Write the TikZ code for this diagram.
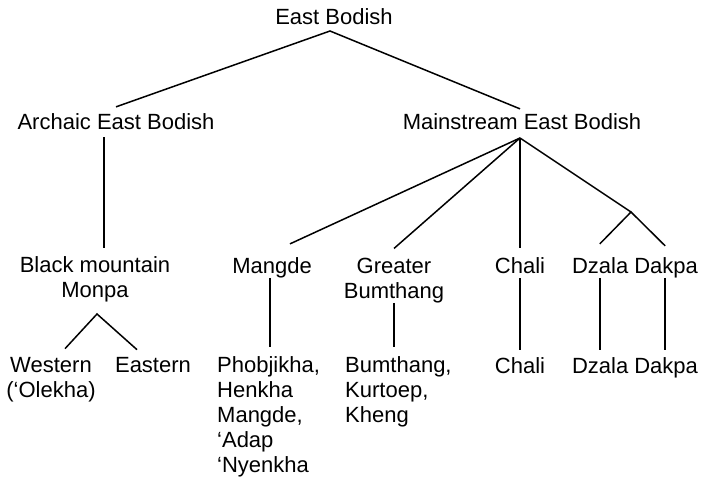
\documentclass[tikz,border=0pt]{standalone}
\usepackage{fontspec}
\setmainfont{Liberation Sans}
\begin{document}
\begin{tikzpicture}[x=1pt, y=-1pt, every node/.style={font=\fontsize{22}{25}\selectfont, inner sep=0pt},
  lang/.style={anchor=base, align=center}, leaf/.style={anchor=base west, align=left},
  branch/.style={line width=1.5pt}]
\useasboundingbox (0,0) rectangle (703,481);
% family tree (multi-line nodes sit on the baseline of their last line)
\node[lang] (root) at (334,25) {East Bodish};
\node[lang] (arch) at (116,130) {Archaic East Bodish};
\node[lang] (main) at (522,130) {Mainstream East Bodish};
\node[lang] (bmm) at (95,297) {Black mountain\\Monpa};
\node[lang] (mangde) at (272,273) {Mangde};
\node[lang] (greater) at (394,298) {Greater\\Bumthang};
\node[lang] (chali) at (520,273) {Chali};
\node[lang] (dzala) at (635,273) {Dzala Dakpa};
\node[lang] (west) at (51,397) {Western\\(‘Olekha)};
\node[lang] (east) at (153,372) {Eastern};
\node[leaf] (mphob) at (217,472) {Phobjikha,\\Henkha\\Mangde,\\‘Adap\\‘Nyenkha};
\node[leaf] (bkheng) at (345,422) {Bumthang,\\Kurtoep,\\Kheng};
\node[lang] (chali2) at (520,373) {Chali};
\node[lang] (dzala2) at (635,373) {Dzala Dakpa};
\coordinate (rootfork) at (330,31);
\coordinate (mainfork) at (520,138);
\coordinate (bmmfork) at (97,314);
\coordinate (dzfork) at (631,212);
% branches
\draw[branch] ([yshift=7pt]arch.north) -- (rootfork) -- ([xshift=-2pt,yshift=5pt]main.north);
\draw[branch] ([xshift=-12pt,yshift=-7pt]arch.south) -- ([xshift=9pt,yshift=8pt]bmm.north);
\draw[branch] (mainfork) -- ([xshift=18pt,yshift=13pt]mangde.north);
\draw[branch] (mainfork) -- ([yshift=9pt]greater.north);
\draw[branch] (mainfork) -- ([yshift=9pt]chali.north);
\draw[branch] (mainfork) -- (dzfork);
\draw[branch] ([xshift=28pt,yshift=13pt]dzala.north west) -- (dzfork) -- ([xshift=-33pt,yshift=11pt]dzala.north east);
\draw[branch] ([xshift=14pt,yshift=8pt]west.north) -- (bmmfork) -- ([xshift=-16pt,yshift=7pt]east.north);
\draw[branch, shorten >=9pt] ([xshift=-2pt]mangde.south) -- ([xshift=-2pt]mangde.south |- mphob.north);
\draw[branch, shorten >=9pt] (greater.south) -- (greater.south |- bkheng.north);
\draw[branch, shorten <=5pt, shorten >=7pt] (chali.south) -- (chali2.north);
\draw[branch, shorten >=7pt] ([xshift=28pt]dzala.south west) -- ([xshift=28pt]dzala2.north west);
\draw[branch, shorten >=7pt] ([xshift=-33pt]dzala.south east) -- ([xshift=-33pt]dzala2.north east);
\end{tikzpicture}
\end{document}
